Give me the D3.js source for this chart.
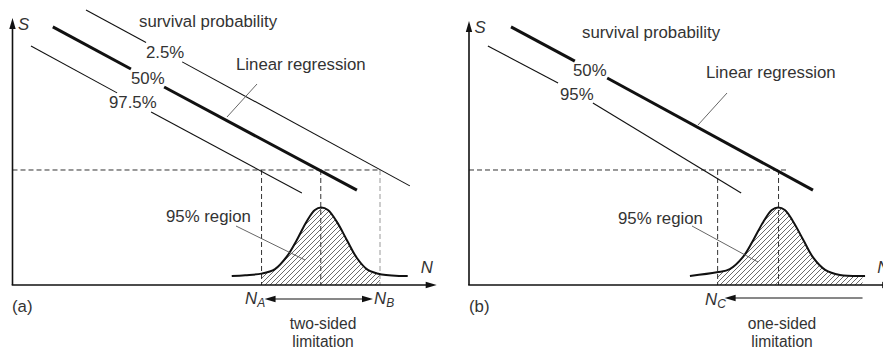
<!DOCTYPE html>
<html>
<head>
<meta charset="utf-8">
<script src="https://cdn.jsdelivr.net/npm/d3@7"></script>
<style>
body { margin: 0; background: #fff; }
svg text { font-family: "Liberation Sans", Arial, sans-serif; font-size: 16.8px; fill: #333; }
svg text.note { font-size: 15.6px; }
</style>
</head>
<body>
<svg id="chart" width="883" height="350"></svg>
<script>
// quantile lines: [N, S] points, gap for the label between seg1 and seg2
var quantilesA = [
    { p: "2.5%",  seg1: [[1.75, 10.38], [3.18, 9.15]], seg2: [[4.04, 8.42], [9.46, 3.74]] },
    { p: "50%",   seg1: [[0.96, 9.74], [2.82, 8.15]],  seg2: [[3.61, 7.47], [8.20, 3.58]] },
    { p: "97.5%", seg1: [[0.44, 9.02], [2.49, 7.25]],  seg2: [[3.30, 6.53], [6.89, 3.47]] }
];
var quantilesB = [
    { p: "50%", seg1: [[1.00, 9.74], [2.52, 8.45]], seg2: [[3.29, 7.81], [8.19, 3.58]] },
    { p: "95%", seg1: [[0.45, 9.02], [2.12, 7.62]], seg2: [[2.95, 6.87], [6.48, 3.47]] }
];

// life distribution at the load level
var densityA = [[5.22, 0.34], [5.54, 0.37], [5.93, 0.43], [6.25, 0.60], [6.53, 1.07], [6.77, 1.70],
    [7.00, 2.39], [7.20, 2.83], [7.35, 2.92], [7.51, 2.83], [7.72, 2.39], [7.96, 1.70],
    [8.20, 1.02], [8.46, 0.57], [8.79, 0.40], [9.41, 0.34]];
var densityB = [[5.26, 0.34], [5.90, 0.48], [6.21, 0.60], [6.53, 1.07], [6.77, 1.70], [7.01, 2.39],
    [7.21, 2.83], [7.36, 2.92], [7.52, 2.83], [7.72, 2.39], [7.96, 1.70], [8.20, 1.02],
    [8.48, 0.57], [8.83, 0.38], [9.43, 0.34]];

var loadLevel = 4.34;
var limitsA = { lo: 5.93, mid: 7.34, hi: 8.75 };
var limitsB = { lo: 5.92, mid: 7.37, hi: 9.37 };

var svg = d3.select("#chart");

// hatching
svg.append("defs")
    .append("pattern")
    .attr("id", "hatch")
    .attr("patternUnits", "userSpaceOnUse")
    .attr("width", 5)
    .attr("height", 5)
    .append("path")
    .attr("d", "M0,5L5,0M-1,1L1,-1M4,6L6,4")
    .attr("stroke", "#444")
    .attr("stroke-width", 0.8);

function arrowHead(g, tipX, tipY, dir) {
    // dir: "up", "right", "left"
    var L = 11, W = 3.2, pts;
    if (dir === "up") pts = [[tipX, tipY], [tipX - W, tipY + L], [tipX + W, tipY + L]];
    if (dir === "right") pts = [[tipX, tipY], [tipX - L, tipY - W], [tipX - L, tipY + W]];
    if (dir === "left") pts = [[tipX, tipY], [tipX + L, tipY - W], [tipX + L, tipY + W]];
    g.append("path").attr("d", "M" + pts.join("L") + "Z").attr("fill", "#111");
}

function drawPanel(id, ox, yTop, quantiles, density, limits) {
    var g = svg.append("g").attr("id", "panel" + id);

    var x = d3.scaleLinear().domain([0, 10]).range([ox, ox + 420]);
    var y = d3.scaleLinear().domain([0, 10]).range([285, 20]);

    var line = d3.line().x(d => x(d[0])).y(d => y(d[1]));
    var curve = d3.curveCatmullRom.alpha(0.5);

    // hatched area under the density, between the limits
    g.append("clipPath")
        .attr("id", "clip" + id)
        .append("rect")
        .attr("x", x(limits.lo))
        .attr("y", 0)
        .attr("width", x(limits.hi) - x(limits.lo))
        .attr("height", y(0));

    g.append("path")
        .datum(density)
        .attr("clip-path", "url(#clip" + id + ")")
        .attr("fill", "url(#hatch)")
        .attr("d", d3.area().x(d => x(d[0])).y0(y(0)).y1(d => y(d[1])).curve(curve));

    // dashed guides
    var dashEnd = id === "a" ? limits.hi : 7.57;
    g.append("line")
        .attr("x1", x(0)).attr("x2", x(dashEnd))
        .attr("y1", y(loadLevel)).attr("y2", y(loadLevel))
        .attr("stroke", "#333").attr("stroke-dasharray", "5,3");

    var verticals = id === "a" ? [limits.lo, limits.mid, limits.hi] : [limits.lo, limits.mid];
    g.selectAll(".vdash")
        .data(verticals)
        .enter()
        .append("line")
        .attr("x1", d => x(d)).attr("x2", d => x(d))
        .attr("y1", y(loadLevel)).attr("y2", y(0))
        .attr("stroke", (d, i) => i === 2 ? "#999" : "#333")
        .attr("stroke-dasharray", "5,3");

    // quantile lines
    quantiles.forEach(function (q) {
        [q.seg1, q.seg2].forEach(function (s) {
            g.append("path")
                .datum(s)
                .attr("d", line)
                .attr("fill", "none")
                .attr("stroke", "#111")
                .attr("stroke-width", q.p === "50%" ? 3 : 1.1);
        });
    });

    // density curve
    g.append("path")
        .datum(density)
        .attr("d", d3.line().x(d => x(d[0])).y(d => y(d[1])).curve(curve))
        .attr("fill", "none")
        .attr("stroke", "#111")
        .attr("stroke-width", 2);

    // axes
    g.append("line")
        .attr("x1", x(0)).attr("x2", x(0))
        .attr("y1", y(0)).attr("y2", yTop + 8)
        .attr("stroke", "#111").attr("stroke-width", 1.6);
    arrowHead(g, x(0), yTop, "up");
    g.append("line")
        .attr("x1", x(0) - 0.8).attr("x2", x(10.1) - 8)
        .attr("y1", y(0)).attr("y2", y(0))
        .attr("stroke", "#111").attr("stroke-width", 1.6);
    arrowHead(g, x(10.1), y(0), "right");

    g.append("text").attr("x", x(0.13)).attr("y", yTop + 12).style("font-style", "italic").text("S");
    g.append("text").attr("x", x(9.72)).attr("y", 273).style("font-style", "italic").text("N");

    return { g: g, x: x, y: y };
}

function leader(g, x1, y1, x2, y2) {
    g.append("line")
        .attr("x1", x1).attr("y1", y1).attr("x2", x2).attr("y2", y2)
        .attr("stroke", "#555").attr("stroke-width", 0.9);
}

function subLabel(g, xp, yp, main, sub) {
    var t = g.append("text").attr("x", xp).attr("y", yp).style("font-style", "italic");
    t.append("tspan").text(main);
    t.append("tspan").attr("dy", 3).style("font-size", "12px").text(sub);
}

// panel (a)
var A = drawPanel("a", 12.5, 18, quantilesA, densityA, limitsA);
A.g.append("text").attr("x", 139).attr("y", 27).text("survival probability");
A.g.append("text").attr("x", 146).attr("y", 58).text(quantilesA[0].p);
A.g.append("text").attr("x", 131).attr("y", 84).text(quantilesA[1].p);
A.g.append("text").attr("x", 109).attr("y", 108).text(quantilesA[2].p);
A.g.append("text").attr("x", 236).attr("y", 70).text("Linear regression");
leader(A.g, 257, 84, 227, 117);
A.g.append("text").attr("x", 166).attr("y", 222).text("95% region");
leader(A.g, 236, 226, 305, 260);
subLabel(A.g, 245, 304, "N", "A");
subLabel(A.g, 374, 304, "N", "B");
A.g.append("line")
    .attr("x1", A.x(limitsA.lo) + 12).attr("x2", A.x(limitsA.hi) - 17)
    .attr("y1", 299).attr("y2", 299).attr("stroke", "#111");
arrowHead(A.g, A.x(limitsA.lo) + 3, 299, "left");
arrowHead(A.g, A.x(limitsA.hi) - 7, 299, "right");
A.g.append("text").attr("x", 12).attr("y", 312).text("(a)");
A.g.append("text").attr("class", "note").attr("x", 323).attr("y", 328.5).attr("text-anchor", "middle").text("two-sided");
A.g.append("text").attr("class", "note").attr("x", 323).attr("y", 346.5).attr("text-anchor", "middle").text("limitation");

// panel (b)
var B = drawPanel("b", 469, 21, quantilesB, densityB, limitsB);
B.g.append("text").attr("x", 582).attr("y", 38).text("survival probability");
B.g.append("text").attr("x", 573).attr("y", 76).text(quantilesB[0].p);
B.g.append("text").attr("x", 560).attr("y", 100).text(quantilesB[1].p);
B.g.append("text").attr("x", 706).attr("y", 78).text("Linear regression");
leader(B.g, 727, 93, 698, 125);
B.g.append("text").attr("x", 618).attr("y", 224).text("95% region");
leader(B.g, 692, 226, 758, 262);
subLabel(B.g, 705, 305, "N", "C");
B.g.append("line")
    .attr("x1", B.x(limitsB.lo) + 14).attr("x2", B.x(limitsB.hi))
    .attr("y1", 298).attr("y2", 298).attr("stroke", "#111");
arrowHead(B.g, B.x(limitsB.lo) + 7, 298, "left");
B.g.append("text").attr("x", 469).attr("y", 312).text("(b)");
B.g.append("text").attr("class", "note").attr("x", 782).attr("y", 329).attr("text-anchor", "middle").text("one-sided");
B.g.append("text").attr("class", "note").attr("x", 782).attr("y", 347).attr("text-anchor", "middle").text("limitation");
</script>
</body>
</html>
